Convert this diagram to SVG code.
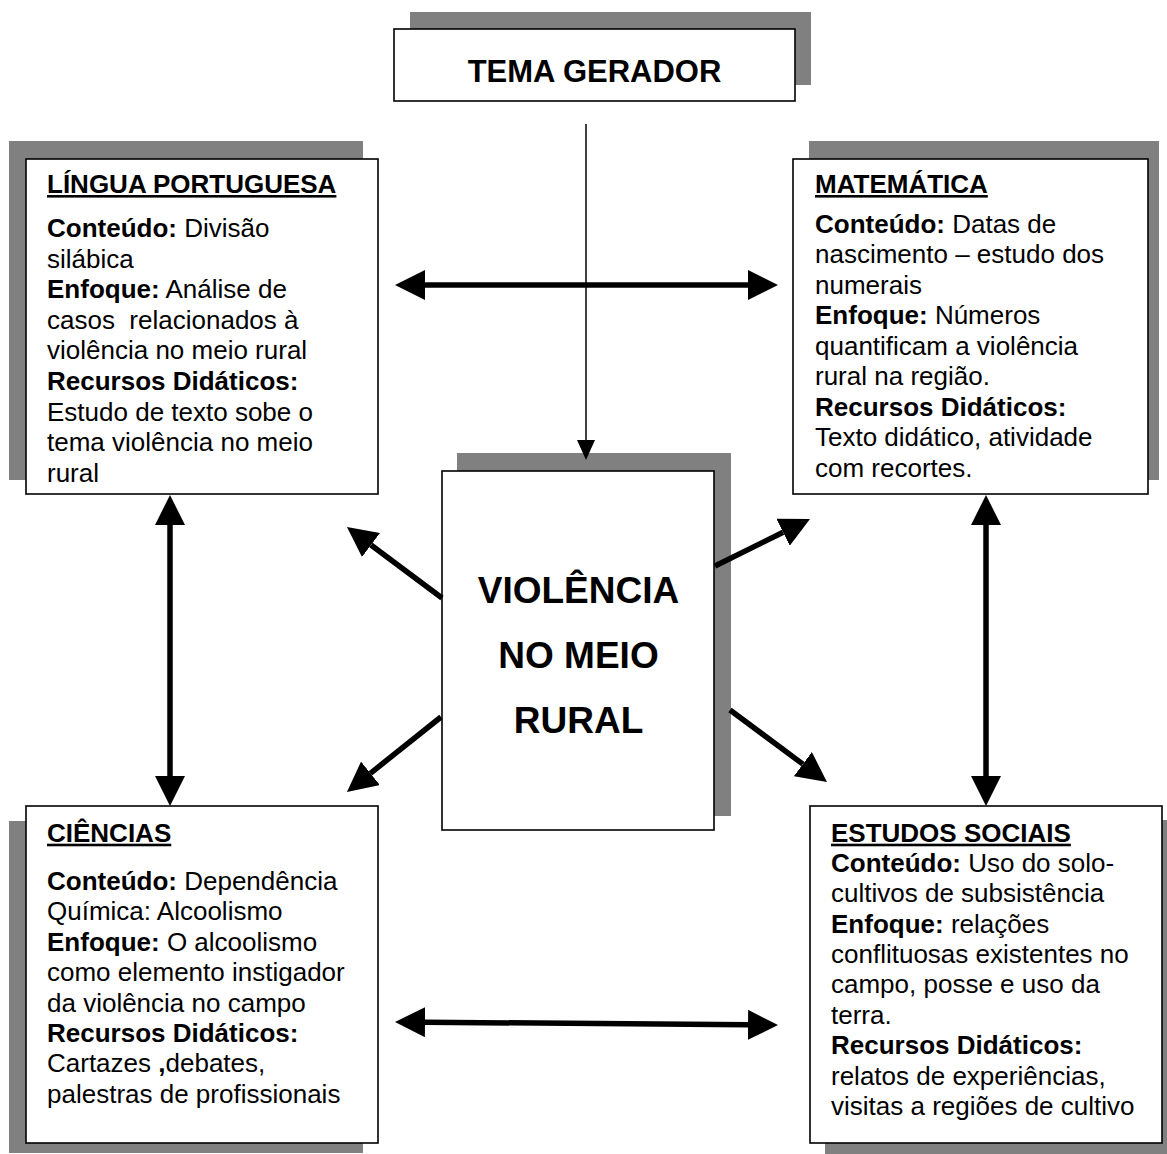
<svg xmlns="http://www.w3.org/2000/svg" width="1167" height="1154" viewBox="0 0 1167 1154">
<style>
.shadow{fill:#808080;stroke:none}
.box{fill:#fff;stroke:#000;stroke-width:1.6}
.t{font-family:"Liberation Sans",Arial,sans-serif;font-size:26px;fill:#000;white-space:pre}
.h{font-weight:bold;text-decoration:underline}
.b{font-weight:bold}
.big{font-family:"Liberation Sans",Arial,sans-serif;font-weight:bold;fill:#000;text-anchor:middle}
.thick{stroke:#000;stroke-width:5.5;fill:none}
.thin{stroke:#000;stroke-width:1.5;fill:none}
</style>
<defs>
<marker id="ah" markerUnits="userSpaceOnUse" markerWidth="30" markerHeight="30" refX="0" refY="15" orient="auto-start-reverse" viewBox="0 0 30 30">
<path d="M0,0 L30,15 L0,30 Z" fill="#000"/>
</marker>
<marker id="ahs" markerUnits="userSpaceOnUse" markerWidth="20" markerHeight="18" refX="0" refY="9" orient="auto" viewBox="0 0 20 18">
<path d="M0,0 L20,9 L0,18 Z" fill="#000"/>
</marker>
</defs>

<g id="tema-gerador">
<rect class="shadow" x="410" y="12" width="401" height="73"/>
<rect class="box" x="394" y="29" width="401" height="72"/>
<text class="big" x="594.5" y="82" font-size="31">TEMA GERADOR</text>
</g>

<g id="lingua-portuguesa">
<rect class="shadow" x="9" y="141" width="354" height="339"/>
<rect class="box" x="26" y="159" width="352" height="335"/>
<text class="t"><tspan x="47" y="193" class="h">LÍNGUA PORTUGUESA</tspan><tspan x="47" y="237"><tspan class="b">Conteúdo:</tspan> Divisão</tspan><tspan x="47" y="267.6">silábica</tspan><tspan x="47" y="298.2"><tspan class="b">Enfoque:</tspan> Análise de</tspan><tspan x="47" y="328.8">casos  relacionados à</tspan><tspan x="47" y="359.4">violência no meio rural</tspan><tspan x="47" y="390" class="b">Recursos Didáticos:</tspan><tspan x="47" y="420.6">Estudo de texto sobe o</tspan><tspan x="47" y="451.2">tema violência no meio</tspan><tspan x="47" y="481.8">rural</tspan></text>
</g>

<g id="matematica">
<rect class="shadow" x="809" y="141" width="350" height="339"/>
<rect class="box" x="793" y="159" width="355" height="335"/>
<text class="t"><tspan x="815" y="193" class="h">MATEMÁTICA</tspan><tspan x="815" y="232.7"><tspan class="b">Conteúdo:</tspan> Datas de</tspan><tspan x="815" y="263.2">nascimento – estudo dos</tspan><tspan x="815" y="293.7">numerais</tspan><tspan x="815" y="324.2"><tspan class="b">Enfoque:</tspan> Números</tspan><tspan x="815" y="354.7">quantificam a violência</tspan><tspan x="815" y="385.2">rural na região.</tspan><tspan x="815" y="415.7" class="b">Recursos Didáticos:</tspan><tspan x="815" y="446.2">Texto didático, atividade</tspan><tspan x="815" y="476.7">com recortes.</tspan></text>
</g>

<g id="violencia-no-meio-rural">
<rect class="shadow" x="457" y="453" width="274" height="363"/>
<rect class="box" x="442" y="471" width="272" height="359"/>
<text class="big" font-size="37"><tspan x="578.5" y="603.3">VIOLÊNCIA</tspan><tspan x="578.5" y="668.3">NO MEIO</tspan><tspan x="578.5" y="733.3">RURAL</tspan></text>
</g>

<g id="ciencias">
<rect class="shadow" x="9" y="821" width="354" height="332"/>
<rect class="box" x="26" y="806" width="352" height="337"/>
<text class="t"><tspan x="47" y="841.7" class="h">CIÊNCIAS</tspan><tspan x="47" y="890"><tspan class="b">Conteúdo:</tspan> Dependência</tspan><tspan x="47" y="920.4">Química: Alcoolismo</tspan><tspan x="47" y="950.8"><tspan class="b">Enfoque:</tspan> O alcoolismo</tspan><tspan x="47" y="981.2">como elemento instigador</tspan><tspan x="47" y="1011.6">da violência no campo</tspan><tspan x="47" y="1042" class="b">Recursos Didáticos:</tspan><tspan x="47" y="1072.4">Cartazes <tspan class="b">,</tspan>debates,</tspan><tspan x="47" y="1102.8">palestras de profissionais</tspan></text>
</g>

<g id="estudos-sociais">
<rect class="shadow" x="825" y="820" width="342" height="334"/>
<rect class="box" x="810" y="806" width="352" height="337"/>
<text class="t"><tspan x="831" y="841.7" class="h">ESTUDOS SOCIAIS</tspan><tspan x="831" y="871.7"><tspan class="b">Conteúdo:</tspan> Uso do solo-</tspan><tspan x="831" y="902.1">cultivos de subsistência</tspan><tspan x="831" y="932.5"><tspan class="b">Enfoque:</tspan> relações</tspan><tspan x="831" y="962.9">conflituosas existentes no</tspan><tspan x="831" y="993.3">campo, posse e uso da</tspan><tspan x="831" y="1023.7">terra.</tspan><tspan x="831" y="1054.1" class="b">Recursos Didáticos:</tspan><tspan x="831" y="1084.5">relatos de experiências,</tspan><tspan x="831" y="1114.9">visitas a regiões de cultivo</tspan></text>
</g>

<g id="connectors">
<line class="thin" x1="586" y1="124" x2="586" y2="440" marker-end="url(#ahs)"/>
<line class="thick" x1="425" y1="285" x2="748" y2="285" marker-start="url(#ah)" marker-end="url(#ah)"/>
<line class="thick" x1="425" y1="1022.2" x2="748" y2="1024.8" marker-start="url(#ah)" marker-end="url(#ah)"/>
<line class="thick" x1="170" y1="525" x2="170" y2="776" marker-start="url(#ah)" marker-end="url(#ah)"/>
<line class="thick" x1="986" y1="525" x2="986" y2="776" marker-start="url(#ah)" marker-end="url(#ah)"/>
<line class="thick" x1="442" y1="598" x2="371" y2="545" marker-end="url(#ah)"/>
<line class="thick" x1="715" y1="566" x2="783.1" y2="532.3" marker-end="url(#ah)"/>
<line class="thick" x1="441" y1="717" x2="370.4" y2="773.3" marker-end="url(#ah)"/>
<line class="thick" x1="730" y1="710" x2="802.9" y2="764.1" marker-end="url(#ah)"/>
</g>
</svg>
